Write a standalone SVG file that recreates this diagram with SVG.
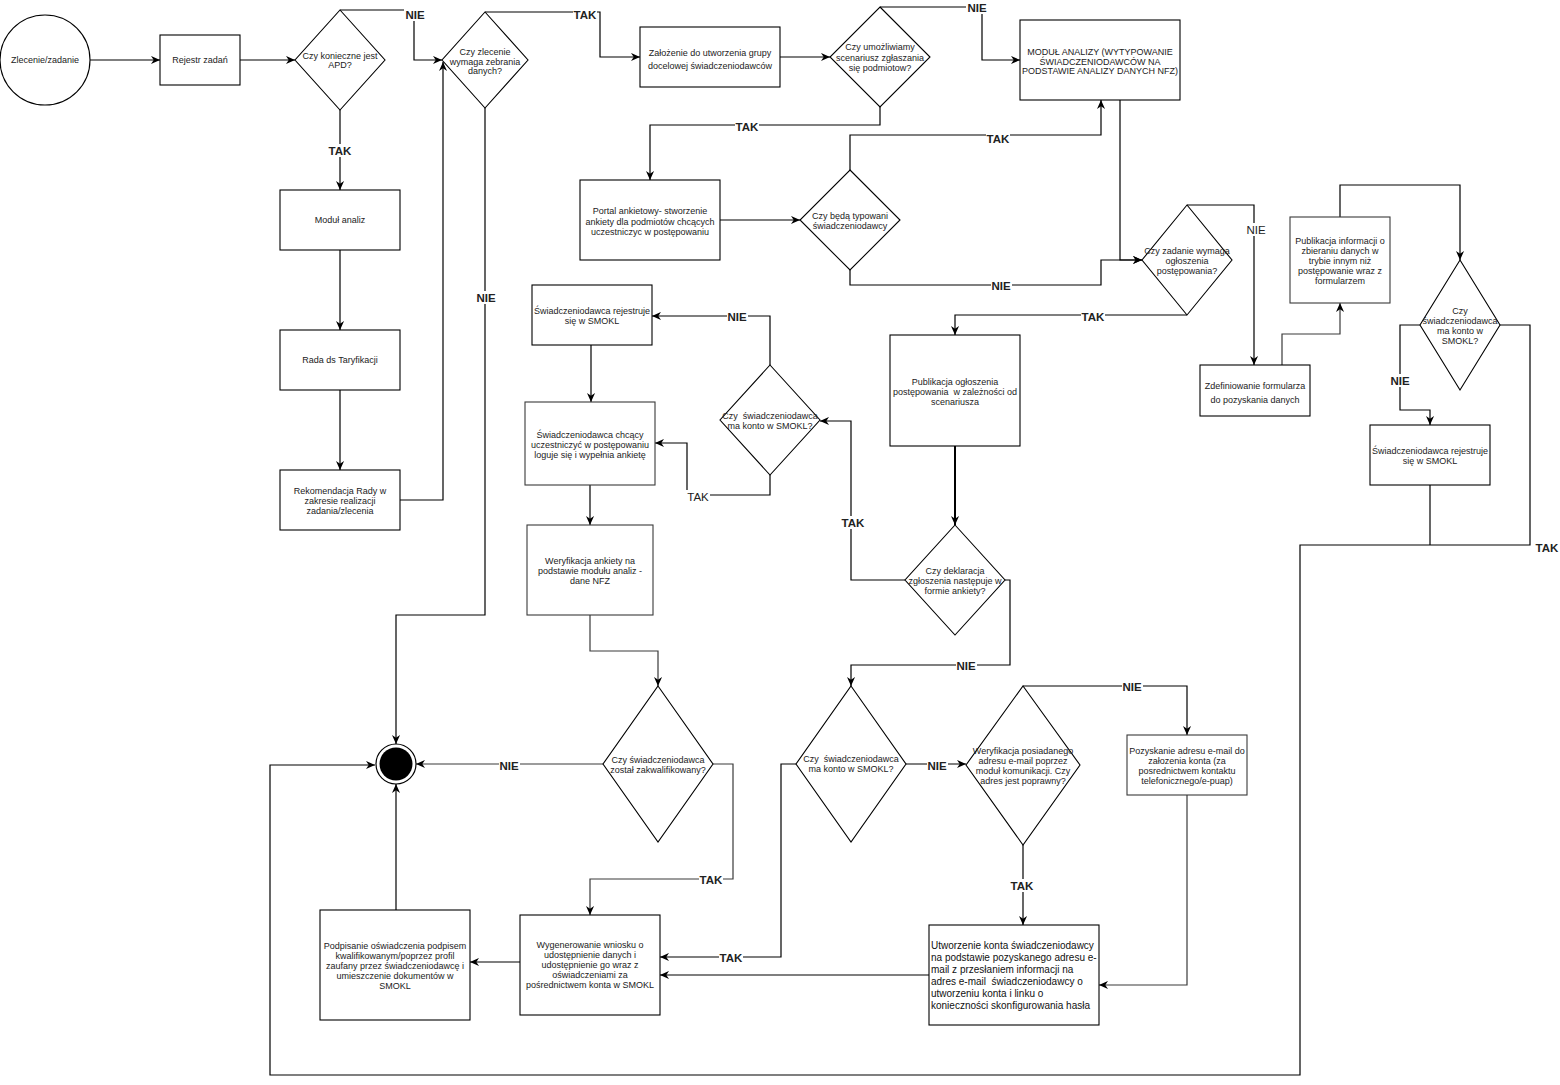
<svg xmlns="http://www.w3.org/2000/svg" width="1560" height="1085" viewBox="0 0 1560 1085">
<style>
.n rect,.n polygon,.n circle{fill:#fff;stroke:#000;stroke-width:1.1}
.g rect{stroke:#3a3a3a}
.t{font-family:"Liberation Sans",Arial,sans-serif;font-size:9px;fill:#222;text-anchor:middle}
.tl{font-family:"Liberation Sans",Arial,sans-serif;font-size:10px;fill:#111;text-anchor:start}
.e path{fill:none;stroke:#000;stroke-width:1.2}
.e path.gr{stroke:#3a3a3a}
.lb rect{fill:#fff;stroke:none}
.lb text{font-family:"Liberation Sans",Arial,sans-serif;font-size:11.5px;font-weight:bold;fill:#222;text-anchor:middle}
.lb text.r{font-weight:normal}
</style>
<defs>
<marker id="a" viewBox="0 0 10 10" refX="10" refY="5" markerWidth="9" markerHeight="9" markerUnits="userSpaceOnUse" orient="auto">
<path d="M0,0.5 L10,5 L0,9.5 L3,5 z" fill="#000"/>
</marker>
</defs>
<rect x="0" y="0" width="1560" height="1085" fill="#fff"/>

<g id="connectors" class="e">
<path d="M90,60 H160" marker-end="url(#a)"/>
<path d="M240,60 H295" marker-end="url(#a)"/>
<path d="M340,10 H414 V60 H442" marker-end="url(#a)"/>
<path d="M340,110 V190" marker-end="url(#a)"/>
<path d="M340,250 V330" marker-end="url(#a)"/>
<path d="M340,390 V470" marker-end="url(#a)"/>
<path d="M400,500 H443 V62" marker-end="url(#a)"/>
<path d="M485,108 V615 H396 V744" marker-end="url(#a)"/>
<path d="M485,12 H600 V57 H640" marker-end="url(#a)"/>
<path d="M780,57 H830" marker-end="url(#a)"/>
<path d="M880,7 H982 V60 H1020" marker-end="url(#a)"/>
<path d="M880,107 V125 H650 V180" marker-end="url(#a)"/>
<path d="M720,220 H800" marker-end="url(#a)"/>
<path d="M850,170 V135 H1101 V100" marker-end="url(#a)"/>
<path d="M850,270 V285 H1101 V260 H1142" marker-end="url(#a)"/>
<path d="M1120,100 V260 H1142" marker-end="url(#a)"/>
<path d="M1187,205 H1254 V365" marker-end="url(#a)"/>
<path d="M1187,315 H955 V335" marker-end="url(#a)"/>
<path class="gr" d="M1282,365 V334 H1340 V303" marker-end="url(#a)"/>
<path d="M1340,217 V185 H1460 V260" marker-end="url(#a)"/>
<path d="M1420,325 H1400 V410 H1430 V425" marker-end="url(#a)"/>
<path d="M1500,325 H1530 V545 H1300 V1075 H270 V765 H375" marker-end="url(#a)"/>
<path d="M1430,485 V545"/>
<path d="M955,446 V525" style="stroke-width:2" marker-end="url(#a)"/>
<path d="M905,580 H851 V421 H820" marker-end="url(#a)"/>
<path d="M1005,580 H1010 V665 H851 V686" marker-end="url(#a)"/>
<path d="M770,365 V316 H652" marker-end="url(#a)"/>
<path d="M770,475 V495 H687 V443 H655" marker-end="url(#a)"/>
<path d="M591,345 V402" marker-end="url(#a)"/>
<path d="M590,485 V525" marker-end="url(#a)"/>
<path class="gr" d="M590,615 V651 H658 V686" marker-end="url(#a)"/>
<path class="gr" d="M603,764 H416" marker-end="url(#a)"/>
<path class="gr" d="M713,764 H733 V879 H590 V915" marker-end="url(#a)"/>
<path d="M796,764 H781 V957 H660" marker-end="url(#a)"/>
<path d="M929,975 H660" marker-end="url(#a)"/>
<path d="M906,764 H966" marker-end="url(#a)"/>
<path d="M1023,845 V925" marker-end="url(#a)"/>
<path d="M1023,686 H1187 V735" marker-end="url(#a)"/>
<path class="gr" d="M1187,795 V985 H1099" marker-end="url(#a)"/>
<path d="M520,962 H470" marker-end="url(#a)"/>
<path d="M396,910 V784" marker-end="url(#a)"/>
</g>

<g id="labels" class="lb">
<rect x="404" y="8" width="22" height="13"/><text x="415" y="19">NIE</text>
<rect x="328" y="144" width="24" height="13"/><text x="340" y="155">TAK</text>
<rect x="573" y="8" width="24" height="13"/><text x="585" y="19">TAK</text>
<rect x="476" y="291" width="21" height="13"/><text x="486" y="302">NIE</text>
<rect x="966" y="1" width="21" height="13"/><text x="977" y="12">NIE</text>
<rect x="735" y="120" width="24" height="13"/><text x="747" y="131">TAK</text>
<rect x="986" y="132" width="24" height="13"/><text x="998" y="143">TAK</text>
<rect x="991" y="279" width="21" height="13"/><text x="1001" y="290">NIE</text>
<rect x="1081" y="310" width="24" height="13"/><text x="1093" y="321">TAK</text>
<rect x="1246" y="223" width="21" height="13"/><text class="r" x="1256" y="234">NIE</text>
<rect x="1390" y="374" width="21" height="13"/><text x="1400" y="385">NIE</text>
<text x="1547" y="552">TAK</text>
<rect x="727" y="310" width="21" height="13"/><text x="737" y="321">NIE</text>
<rect x="686" y="490" width="24" height="13"/><text class="r" x="698" y="501">TAK</text>
<rect x="841" y="516" width="24" height="13"/><text x="853" y="527">TAK</text>
<rect x="956" y="659" width="21" height="13"/><text x="966" y="670">NIE</text>
<rect x="499" y="759" width="21" height="13"/><text x="509" y="770">NIE</text>
<rect x="699" y="873" width="24" height="13"/><text x="711" y="884">TAK</text>
<rect x="719" y="951" width="24" height="13"/><text x="731" y="962">TAK</text>
<rect x="927" y="759" width="21" height="13"/><text x="937" y="770">NIE</text>
<rect x="1010" y="879" width="24" height="13"/><text x="1022" y="890">TAK</text>
<rect x="1122" y="680" width="21" height="13"/><text x="1132" y="691">NIE</text>
</g>

<g id="n_start" class="n"><circle cx="45" cy="60" r="45"/><text class="t" x="45" y="63">Zlecenie/zadanie</text></g>
<g id="n_rejestr" class="n"><rect x="160" y="35" width="80" height="50"/><text class="t" x="200" y="63">Rejestr zadań</text></g>
<g id="d_apd" class="n"><polygon points="340,10 385,60 340,110 295,60"/><text class="t" x="340"><tspan x="340" y="59">Czy konieczne jest</tspan><tspan x="340" y="68">APD?</tspan></text></g>
<g id="n_modul" class="n"><rect x="280" y="190" width="120" height="60"/><text class="t" x="340" y="223">Moduł analiz</text></g>
<g id="n_rada" class="n"><rect x="280" y="330" width="120" height="60"/><text class="t" x="340" y="363">Rada ds Taryfikacji</text></g>
<g id="n_rekom" class="n"><rect x="280" y="470" width="120" height="60"/><text class="t"><tspan x="340" y="494">Rekomendacja Rady w</tspan><tspan x="340" y="504">zakresie realizacji</tspan><tspan x="340" y="514">zadania/zlecenia</tspan></text></g>
<g id="d_zebr" class="n"><polygon points="485,12 528,60 485,108 442,60"/><text class="t"><tspan x="485" y="55">Czy zlecenie</tspan><tspan x="485" y="65">wymaga zebrania</tspan><tspan x="485" y="74">danych?</tspan></text></g>
<g id="n_zal" class="n"><rect x="640" y="27" width="140" height="60"/><text class="t"><tspan x="710" y="56">Założenie do utworzenia grupy</tspan><tspan x="710" y="69">docelowej świadczeniodawców</tspan></text></g>
<g id="d_umoz" class="n"><polygon points="880,7 930,57 880,107 830,57"/><text class="t"><tspan x="880" y="50">Czy umożliwiamy</tspan><tspan x="880" y="61">scenariusz zgłaszania</tspan><tspan x="880" y="71">się podmiotow?</tspan></text></g>
<g id="n_modA" class="n"><rect x="1020" y="20" width="160" height="80"/><text class="t"><tspan x="1100" y="55">MODUŁ ANALIZY (WYTYPOWANIE</tspan><tspan x="1100" y="65">ŚWIADCZENIODAWCÓW NA</tspan><tspan x="1100" y="74">PODSTAWIE ANALIZY DANYCH NFZ)</tspan></text></g>
<g id="n_portal" class="n"><rect x="580" y="180" width="140" height="80"/><text class="t"><tspan x="650" y="214">Portal ankietowy- stworzenie</tspan><tspan x="650" y="225">ankiety dla podmiotów chcących</tspan><tspan x="650" y="235">uczestniczyc w postępowaniu</tspan></text></g>
<g id="d_typ" class="n"><polygon points="850,170 900,220 850,270 800,220"/><text class="t"><tspan x="850" y="219">Czy będą typowani</tspan><tspan x="850" y="229">świadczeniodawcy</tspan></text></g>
<g id="d_ogl" class="n"><polygon points="1187,205 1232,260 1187,315 1142,260"/><text class="t"><tspan x="1187" y="254">Czy zadanie wymaga</tspan><tspan x="1187" y="264">ogłoszenia</tspan><tspan x="1187" y="274">postępowania?</tspan></text></g>
<g id="n_zdef" class="n"><rect x="1200" y="365" width="110" height="51"/><text class="t"><tspan x="1255" y="389">Zdefiniowanie formularza</tspan><tspan x="1255" y="403">do pozyskania danych</tspan></text></g>
<g id="n_pubinfo" class="n g"><rect x="1290" y="217" width="100" height="86"/><text class="t"><tspan x="1340" y="244">Publikacja informacji o</tspan><tspan x="1340" y="254">zbieraniu danych w</tspan><tspan x="1340" y="264">trybie innym niż</tspan><tspan x="1340" y="274">postępowanie wraz z</tspan><tspan x="1340" y="284">formularzem</tspan></text></g>
<g id="d_kontoR" class="n"><polygon points="1460,260 1500,325 1460,390 1420,325"/><text class="t"><tspan x="1460" y="314">Czy</tspan><tspan x="1460" y="324">świadczeniodawca</tspan><tspan x="1460" y="334">ma konto w</tspan><tspan x="1460" y="344">SMOKL?</tspan></text></g>
<g id="n_rejR" class="n"><rect x="1370" y="425" width="120" height="60"/><text class="t"><tspan x="1430" y="454">Świadczeniodawca rejestruje</tspan><tspan x="1430" y="464">się w SMOKL</tspan></text></g>
<g id="n_rejM" class="n"><rect x="532" y="285" width="120" height="60"/><text class="t"><tspan x="592" y="314">Świadczeniodawca rejestruje</tspan><tspan x="592" y="324">się w SMOKL</tspan></text></g>
<g id="n_chc" class="n g"><rect x="525" y="402" width="130" height="83"/><text class="t"><tspan x="590" y="438">Świadczeniodawca chcący</tspan><tspan x="590" y="448">uczestniczyć w postępowaniu</tspan><tspan x="590" y="458">loguje się i wypełnia ankietę</tspan></text></g>
<g id="n_wer" class="n g"><rect x="527" y="525" width="126" height="90"/><text class="t"><tspan x="590" y="564">Weryfikacja ankiety na</tspan><tspan x="590" y="574">podstawie modułu analiz -</tspan><tspan x="590" y="584">dane NFZ</tspan></text></g>
<g id="d_kontoM" class="n"><polygon points="770,365 820,420 770,475 720,420"/><text class="t" xml:space="preserve"><tspan x="770" y="419">Czy  świadczeniodawca</tspan><tspan x="770" y="429">ma konto w SMOKL?</tspan></text></g>
<g id="n_publ" class="n"><rect x="890" y="335" width="130" height="111"/><text class="t" xml:space="preserve"><tspan x="955" y="385">Publikacja ogłoszenia</tspan><tspan x="955" y="395">postępowania  w zależności od</tspan><tspan x="955" y="405">scenariusza</tspan></text></g>
<g id="d_dekl" class="n"><polygon points="955,525 1005,580 955,635 905,580"/><text class="t"><tspan x="955" y="574">Czy deklaracja</tspan><tspan x="955" y="584">zgłoszenia następuje w</tspan><tspan x="955" y="594">formie ankiety?</tspan></text></g>
<g id="n_end"><circle cx="396" cy="764" r="20" fill="#fff" stroke="#000" stroke-width="1.2"/><circle cx="396" cy="764" r="16.5" fill="#000"/></g>
<g id="d_kwal" class="n"><polygon points="658,686 713,764 658,842 603,764"/><text class="t"><tspan x="658" y="763">Czy świadczeniodawca</tspan><tspan x="658" y="773">został zakwalifikowany?</tspan></text></g>
<g id="n_wyg" class="n"><rect x="520" y="915" width="140" height="100"/><text class="t"><tspan x="590" y="948">Wygenerowanie wniosku o</tspan><tspan x="590" y="958">udostępnienie danych i</tspan><tspan x="590" y="968">udostępnienie go wraz z</tspan><tspan x="590" y="978">oświadczeniami za</tspan><tspan x="590" y="988">pośrednictwem konta w SMOKL</tspan></text></g>
<g id="n_podp" class="n"><rect x="320" y="910" width="150" height="110"/><text class="t"><tspan x="395" y="949">Podpisanie oświadczenia podpisem</tspan><tspan x="395" y="959">kwalifikowanym/poprzez profil</tspan><tspan x="395" y="969">zaufany przez świadczeniodawcę i</tspan><tspan x="395" y="979">umieszczenie dokumentów w</tspan><tspan x="395" y="989">SMOKL</tspan></text></g>
<g id="d_kontoB" class="n"><polygon points="851,686 906,764 851,842 796,764"/><text class="t" xml:space="preserve"><tspan x="851" y="762">Czy  świadczeniodawca</tspan><tspan x="851" y="772">ma konto w SMOKL?</tspan></text></g>
<g id="d_email" class="n"><polygon points="1023,686 1080,765 1023,845 966,765"/><text class="t"><tspan x="1023" y="754">Weryfikacja posiadanego</tspan><tspan x="1023" y="764">adresu e-mail poprzez</tspan><tspan x="1023" y="774">moduł komunikacji. Czy</tspan><tspan x="1023" y="784">adres jest poprawny?</tspan></text></g>
<g id="n_utw" class="n"><rect x="929" y="925" width="170" height="100"/><text class="tl" xml:space="preserve"><tspan x="931" y="949">Utworzenie konta świadczeniodawcy</tspan><tspan x="931" y="961">na podstawie pozyskanego adresu e-</tspan><tspan x="931" y="973">mail z przesłaniem informacji na</tspan><tspan x="931" y="985">adres e-mail  świadczeniodawcy o</tspan><tspan x="931" y="997">utworzeniu konta i linku o</tspan><tspan x="931" y="1009">konieczności skonfigurowania hasła</tspan></text></g>
<g id="n_pozysk" class="n g"><rect x="1127" y="735" width="120" height="60"/><text class="t"><tspan x="1187" y="754">Pozyskanie adresu e-mail do</tspan><tspan x="1187" y="764">załozenia konta (za</tspan><tspan x="1187" y="774">posrednictwem kontaktu</tspan><tspan x="1187" y="784">telefonicznego/e-puap)</tspan></text></g>
</svg>
